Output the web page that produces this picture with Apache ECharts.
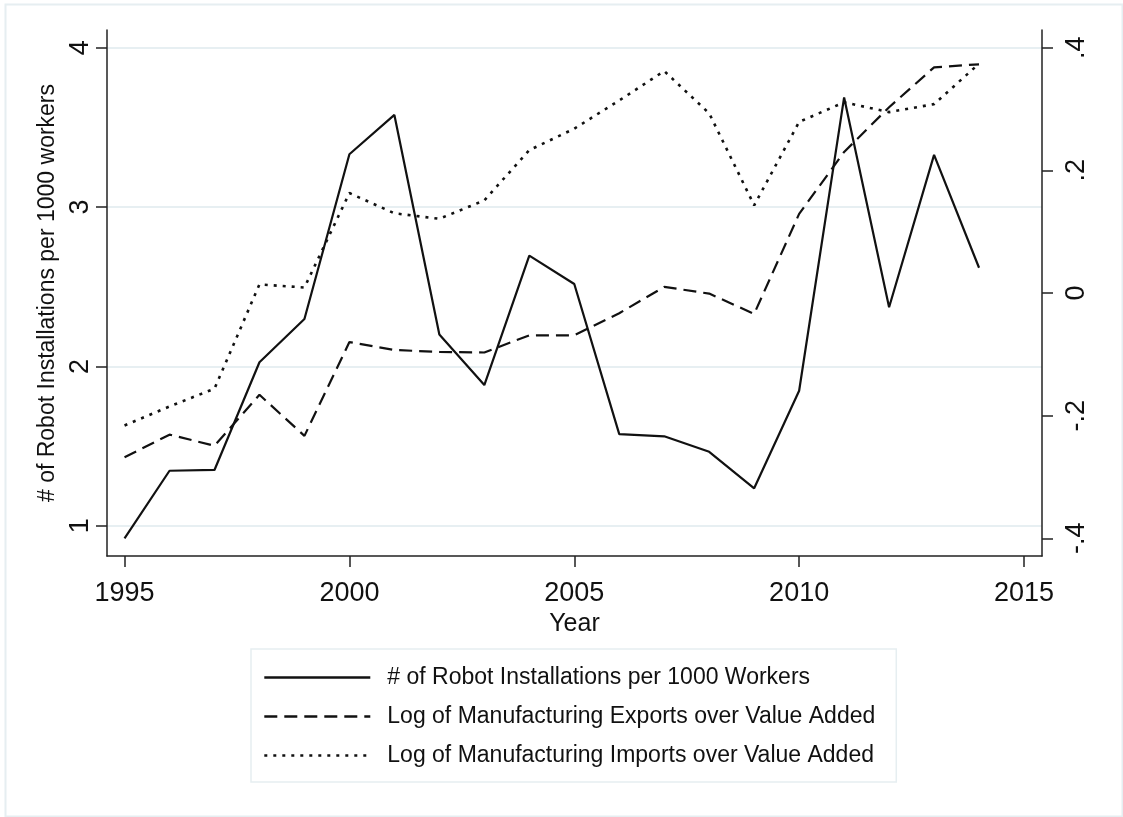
<!DOCTYPE html>
<html>
<head>
<meta charset="utf-8">
<script src="https://cdn.jsdelivr.net/npm/echarts@6/dist/echarts.min.js"></script>
<style>
html,body{margin:0;padding:0;background:#fff;}
#chart{width:1123px;height:817px;}
</style>
</head>
<body>
<div id="chart"></div>
<script>
const years = [1995,1996,1997,1998,1999,2000,2001,2002,2003,2004,2005,2006,2007,2008,2009,2010,2011,2012,2013,2014];
const robots = [0.92,1.345,1.35,2.026,2.297,3.331,3.578,2.2,1.883,2.695,2.517,1.575,1.561,1.464,1.235,1.847,3.688,2.371,3.327,2.619];
const exportsLog = [-0.268,-0.231,-0.249,-0.166,-0.233,-0.080,-0.093,-0.096,-0.097,-0.069,-0.069,-0.033,0.010,-0.001,-0.034,0.129,0.230,0.303,0.368,0.373];
const importsLog = [-0.216,-0.185,-0.156,0.014,0.009,0.163,0.130,0.121,0.151,0.233,0.268,0.314,0.362,0.293,0.143,0.279,0.311,0.295,0.308,0.374];
const xTicks = [1995,2000,2005,2010,2015];
const leftTicks = [1,2,3,4];
const rightTicks = [-0.4,-0.2,0,0.2,0.4];
const names = ['# of Robot Installations per 1000 Workers','Log of Manufacturing Exports over Value Added','Log of Manufacturing Imports over Value Added'];

const FONT = "'Liberation Sans', Arial, sans-serif";
const INK = '#111';
const AXIS = '#222';
const GRID = '#e7eff2';

function fmtRight(v){
  if (Math.abs(v) < 1e-9) return '0';
  let s = String(Math.round(v*10)/10);
  return s.replace('0.', '.');
}

const chart = echarts.init(document.getElementById('chart'));
chart.setOption({
  backgroundColor: '#fff',
  animation: false,
  textStyle: {fontFamily: FONT, color: INK},
  graphic: [{
    type: 'rect', left: 3, top: 2, silent: true,
    shape: {width: 1117, height: 812},
    style: {fill: 'none', stroke: '#e6eef1', lineWidth: 2}
  }],
  grid: {left: 107, right: 81, top: 30, bottom: 261, containLabel: false},
  xAxis: {
    type: 'value', min: 1994.61, max: 2015.4,
    name: 'Year', nameLocation: 'middle', nameGap: 47,
    nameTextStyle: {fontSize: 25, color: INK, fontFamily: FONT},
    axisLine: {show: true, onZero: false, lineStyle: {color: AXIS, width: 1.5}},
    axisTick: {show: true, length: 11, customValues: xTicks, lineStyle: {color: AXIS, width: 1.5}},
    axisLabel: {customValues: xTicks, fontSize: 27, color: INK, margin: 24, fontFamily: FONT, formatter: v => String(v)},
    splitLine: {show: false}
  },
  yAxis: [{
    type: 'value', min: 0.81, max: 4.111, position: 'left',
    name: '# of Robot Installations per 1000 workers', nameLocation: 'middle', nameGap: 48, nameRotate: 90,
    nameTextStyle: {fontSize: 23, color: INK, fontFamily: FONT},
    axisLine: {show: true, onZero: false, lineStyle: {color: AXIS, width: 1.5}},
    axisTick: {show: true, length: 11, customValues: leftTicks, lineStyle: {color: AXIS, width: 1.5}},
    axisLabel: {customValues: leftTicks, rotate: 90, fontSize: 27, color: INK, margin: 13, fontFamily: FONT},
    splitLine: {show: true, lineStyle: {color: GRID, width: 2}}
  }, {
    type: 'value', min: -0.4289, max: 0.4289, position: 'right',
    axisLine: {show: true, onZero: false, lineStyle: {color: AXIS, width: 1.5}},
    axisTick: {show: true, length: 11, customValues: rightTicks, lineStyle: {color: AXIS, width: 1.5}},
    axisLabel: {customValues: rightTicks, rotate: 90, fontSize: 27, color: INK, margin: 21, fontFamily: FONT, formatter: fmtRight},
    splitLine: {show: false}
  }],
  legend: {
    orient: 'vertical', left: 251, top: 649,
    padding: [17, 21, 15, 12],
    itemWidth: 106, itemHeight: 20, itemGap: 16,
    borderColor: '#e6eef1', borderWidth: 1.5, backgroundColor: '#fff',
    itemStyle: {opacity: 0, borderWidth: 0},
    lineStyle: {width: 2.6},
    textStyle: {fontSize: 23, color: INK, fontFamily: FONT, padding: [0, 0, 0, 12]},
    data: names
  },
  series: [{
    name: names[0], type: 'line', yAxisIndex: 0, symbol: 'none',
    data: years.map((y, i) => [y, robots[i]]),
    lineStyle: {color: INK, width: 2.2, type: 'solid'}, itemStyle: {color: INK}
  }, {
    name: names[1], type: 'line', yAxisIndex: 1, symbol: 'none',
    data: years.map((y, i) => [y, exportsLog[i]]),
    lineStyle: {color: INK, width: 2.2, type: [13, 7]}, itemStyle: {color: INK}
  }, {
    name: names[2], type: 'line', yAxisIndex: 1, symbol: 'none',
    data: years.map((y, i) => [y, importsLog[i]]),
    lineStyle: {color: INK, width: 2.6, type: [3, 6]}, itemStyle: {color: INK}
  }]
});
</script>
</body>
</html>
